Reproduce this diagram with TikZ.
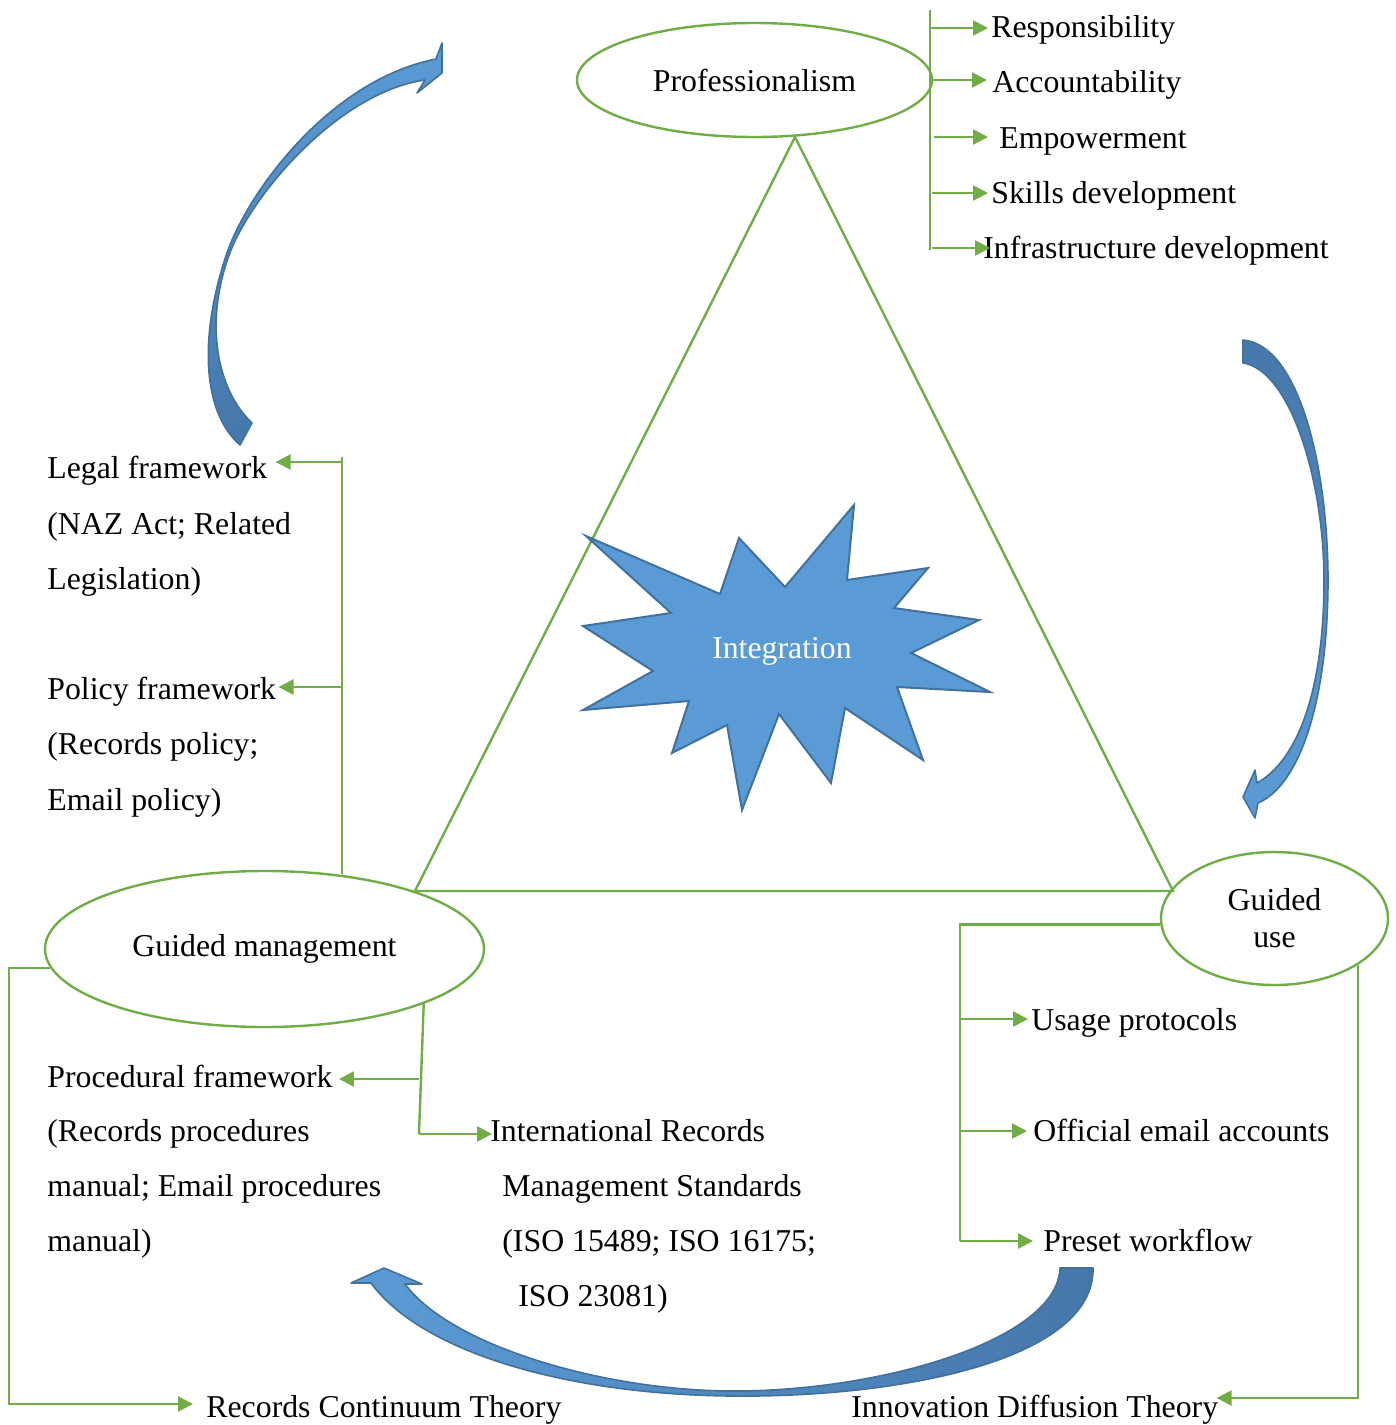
\documentclass[tikz,border=0pt]{standalone}
\usepackage{fontspec}
\setmainfont{Liberation Serif}
\usetikzlibrary{arrows.meta,shapes.geometric}
\definecolor{gr}{HTML}{70AD47}
\definecolor{bfill}{HTML}{5B9BD5}
\definecolor{bline}{HTML}{41719C}
\definecolor{bdark}{HTML}{4677AA}
\begin{document}
\begin{tikzpicture}[x=0.5pt,y=-0.5pt,
  txt/.style={anchor=base west, inner sep=0pt, yshift=-0.6pt, font=\fontsize{15.9}{19}\selectfont},
  oval/.style={ellipse, draw=gr, line width=1.2pt, inner sep=0pt, font=\fontsize{15.9}{18.5}\selectfont, align=center},
  gline/.style={draw=gr, line width=1.2pt},
  garr/.style={gline, -{Triangle[length=7.5pt,width=7.5pt]}},
  bigarrow/.style={draw=bline, line width=0.8pt, line join=round},
]
\useasboundingbox (0,0) rectangle (1396,1425);

% ---------- curved block arrows ----------
\shadedraw[bigarrow, top color=bfill, middle color=bdark, bottom color=bdark]
  (240,445) .. controls (200,410) and (200,330) .. (228,250)
  .. controls (250,190) and (330,80) .. (436,59)
  -- (442,43) -- (442,73) -- (417,93) -- (425,80)
  .. controls (340,92) and (255,191) .. (231,250)
  .. controls (203,322) and (217,390) .. (252,423) -- cycle;

\shadedraw[bigarrow, top color=bdark, middle color=bdark, bottom color=bfill]
  (1243,340) .. controls (1300,345) and (1328,470) .. (1328,580)
  .. controls (1328,700) and (1300,785) .. (1258,803)
  -- (1255,818) -- (1243,797) -- (1255,770) -- (1257,783)
  .. controls (1298,760) and (1324,690) .. (1324,580)
  .. controls (1324,480) and (1290,370) .. (1243,363) -- cycle;

\shadedraw[bigarrow, left color=bfill, right color=bdark]
  (1093,1268) .. controls (1095,1360) and (900,1398) .. (730,1396)
  .. controls (560,1394) and (420,1350) .. (371,1283)
  -- (351,1283) -- (384,1268) -- (422,1284) -- (405,1284)
  .. controls (450,1345) and (600,1390) .. (730,1391)
  .. controls (880,1392) and (1058,1340) .. (1060,1268) -- cycle;

% ---------- ellipses ----------
\node[oval, minimum width=177.5pt, minimum height=57pt] (prof) at (754.5,80) {Professionalism};
\node[oval, minimum width=219.5pt, minimum height=78pt] (gm) at (264.5,949) {Guided management};
\node[oval, minimum width=113.5pt, minimum height=66.5pt] (gu) at (1274.5,918.5) {Guided\\use};

% ---------- triangle ----------
\coordinate (tA) at (795,137);
\coordinate (tL) at (415,891);
\coordinate (tR) at (1173,891);
\draw[gline, line join=miter] (tA) -- (tL) -- (tR) -- cycle;

% ---------- integration star ----------
\filldraw[fill=bfill, draw=bline, line width=1pt, line join=miter]
  (586,536) -- (720,594) -- (739,538) -- (785,587) -- (854,505) -- (847,580)
  -- (928,568) -- (894,608) -- (979,620) -- (911,653) -- (990,692) -- (897,687)
  -- (923,760) -- (845,708) -- (831,783) -- (779,714) -- (742,810) -- (727,725)
  -- (672,753) -- (689,701) -- (583,710) -- (653,671) -- (583,626) -- (671,613) -- cycle;
\node[inner sep=0pt, text=white, font=\fontsize{15.9}{19}\selectfont] (integ) at (782,651) {Integration};

% ---------- professionalism branch ----------
\node[txt] (resp) at (991,36) {Responsibility};
\node[txt] (acc) at (992,91) {Accountability};
\node[txt] (emp) at (999,147) {Empowerment};
\node[txt] (skill) at (991,202) {Skills development};
\node[txt] (infra) at (983,257) {Infrastructure development};
\coordinate (pbT) at (930,10);
\coordinate (pbB) at (930,250);
\draw[gline] (pbT) -- (pbB);
\coordinate (p1) at (930,28);
\coordinate (p3) at (934,137);
\coordinate (p4) at (932,193);
\coordinate (p5) at (932,248);
\draw[garr, shorten >=1.5pt] (p1) -- (p1 -| resp.west);
\draw[garr, shorten >=2.5pt] (prof.east) -- (prof.east -| acc.west);
\draw[garr, shorten >=5.5pt] (p3) -- (p3 -| emp.west);
\draw[garr, shorten >=1.5pt] (p4) -- (p4 -| skill.west);
\draw[garr, shorten >=-3.5pt] (p5) -- (p5 -| infra.west);

% ---------- legal / policy branch ----------
\node[txt] (legal) at (47,477) {Legal framework};
\node[txt] (legal2) at (47,533) {(NAZ Act; Related};
\node[txt] (legal3) at (47,588) {Legislation)};
\node[txt] (pol) at (47,698) {Policy framework};
\node[txt] (pol2) at (47,753) {(Records policy;};
\node[txt] (pol3) at (47,809) {Email policy)};
\coordinate (lb1) at (342,457);
\draw[gline] (lb1) -- (lb1 |- gm.45);
\coordinate (lb2) at (342,462);
\coordinate (lb3) at (342,687);
\draw[garr, shorten >=4pt] (lb2) -- (lb2 -| legal.east);
\draw[garr, shorten >=1pt] (lb3) -- (lb3 -| pol.east);

% ---------- procedural / standards branch ----------
\node[txt] (proc) at (47,1086) {Procedural framework};
\node[txt] (proc2) at (47,1140) {(Records procedures};
\node[txt] (proc3) at (47,1195) {manual; Email procedures};
\node[txt] (proc4) at (47,1250) {manual)};
\node[txt] (intl) at (490,1140) {International Records};
\node[txt] (intl2) at (502,1195) {Management Standards};
\node[txt] (intl3) at (502,1250) {(ISO 15489; ISO 16175;};
\node[txt] (intl4) at (518,1305) {ISO 23081)};
\coordinate (gmp) at (419,1079);
\coordinate (gmv) at (419,1134);
\draw[gline] (gm.-19.7) -- (gmv);
\draw[garr, shorten >=3pt] (gmp) -- (gmp -| proc.east);
\draw[garr, shorten >=-1pt] (gmv) -- (gmv -| intl.west);

% ---------- records continuum ----------
\node[txt] (rct) at (206,1416) {Records Continuum Theory};
\coordinate (lcb) at (9,1404);
\draw[garr, shorten >=6.5pt] (gm.185) -| (lcb) -- (lcb -| rct.west);

% ---------- guided use branch ----------
\node[txt] (usage) at (1031,1029) {Usage protocols};
\node[txt] (offi) at (1033,1140) {Official email accounts};
\node[txt] (pres) at (1043,1250) {Preset workflow};
\coordinate (guv) at (960,1241);
\draw[gline] (gu.183) -| (guv);
\coordinate (gu1) at (960,1019);
\coordinate (gu2) at (960,1131);
\draw[garr, shorten >=1.5pt] (gu1) -- (gu1 -| usage.west);
\draw[garr, shorten >=3pt] (gu2) -- (gu2 -| offi.west);
\draw[garr, shorten >=5pt] (guv) -- (guv -| pres.west);

% ---------- innovation diffusion ----------
\node[txt] (idt) at (851,1416) {Innovation Diffusion Theory};
\coordinate (rc) at (1356,1398);
\draw[garr, shorten >=-1pt] (gu.-29.6) -- (gu.-29.6 |- rc) -- (rc -| idt.east);
\end{tikzpicture}
\end{document}
